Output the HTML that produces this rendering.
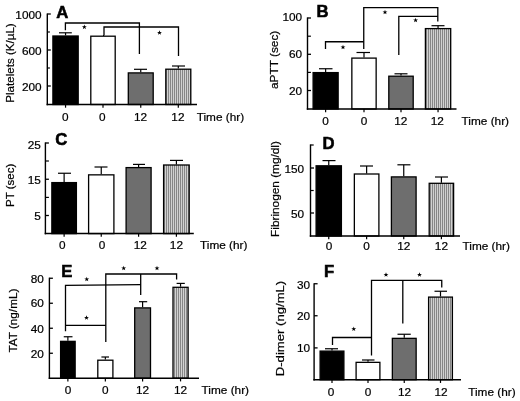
<!DOCTYPE html>
<html><head><meta charset="utf-8"><style>
html,body{margin:0;padding:0;background:#fff;}
svg{display:block;font-family:"Liberation Sans",sans-serif;will-change:transform;transform:translateZ(0);}
</style></head><body>
<svg width="520" height="401" viewBox="0 0 520 401">
<defs><pattern id="st" patternUnits="userSpaceOnUse" width="2" height="4"><rect width="2" height="4" fill="#dadada"/><rect x="0" width="1.1" height="4" fill="#868686"/></pattern></defs>
<rect width="520" height="401" fill="#fff"/>
<line x1="65.55" y1="32.8" x2="65.55" y2="35.4" stroke="#000" stroke-width="1.2"/>
<line x1="59" y1="32.8" x2="71.8" y2="32.8" stroke="#000" stroke-width="1.2"/>
<rect x="52.9" y="36.0" width="25.3" height="68.5" fill="#000" stroke="#000" stroke-width="1.3"/>
<line x1="103.0" y1="35.6" x2="103.0" y2="35.6" stroke="#000" stroke-width="1.2"/>
<line x1="103" y1="35.6" x2="104" y2="35.6" stroke="#000" stroke-width="1.2"/>
<rect x="90.8" y="36.2" width="24.399999999999995" height="68.30000000000001" fill="#fff" stroke="#000" stroke-width="1.3"/>
<line x1="140.75" y1="69.3" x2="140.75" y2="72.3" stroke="#000" stroke-width="1.2"/>
<line x1="134" y1="69.3" x2="147" y2="69.3" stroke="#000" stroke-width="1.2"/>
<rect x="128.3" y="72.89999999999999" width="24.90000000000001" height="31.6" fill="#6e6e6e" stroke="#000" stroke-width="1.3"/>
<line x1="178.3" y1="66" x2="178.3" y2="68.6" stroke="#000" stroke-width="1.2"/>
<line x1="172" y1="66" x2="185" y2="66" stroke="#000" stroke-width="1.2"/>
<rect x="165.79999999999998" y="69.19999999999999" width="25.000000000000018" height="35.300000000000004" fill="url(#st)" stroke="#000" stroke-width="1.3"/>
<line x1="47.3" y1="13.4" x2="47.3" y2="105.2" stroke="#000" stroke-width="1.4"/>
<line x1="46.599999999999994" y1="104.5" x2="197" y2="104.5" stroke="#000" stroke-width="1.5"/>
<line x1="47.3" y1="14" x2="50.8" y2="14" stroke="#000" stroke-width="1.3"/>
<text x="41.6" y="19.3" font-size="11.8" text-anchor="end" stroke="#000" stroke-width="0.22" fill="#000">1000</text>
<line x1="47.3" y1="32" x2="49.9" y2="32" stroke="#000" stroke-width="1.2"/>
<line x1="47.3" y1="50" x2="50.8" y2="50" stroke="#000" stroke-width="1.3"/>
<text x="41.6" y="54.7" font-size="11.8" text-anchor="end" stroke="#000" stroke-width="0.22" fill="#000">600</text>
<line x1="47.3" y1="68" x2="49.9" y2="68" stroke="#000" stroke-width="1.2"/>
<line x1="47.3" y1="86" x2="50.8" y2="86" stroke="#000" stroke-width="1.3"/>
<text x="41.6" y="90.69999999999999" font-size="11.8" text-anchor="end" stroke="#000" stroke-width="0.22" fill="#000">200</text>
<line x1="65.55" y1="104.5" x2="65.55" y2="107.7" stroke="#000" stroke-width="1.2"/>
<line x1="103.0" y1="104.5" x2="103.0" y2="107.7" stroke="#000" stroke-width="1.2"/>
<line x1="140.75" y1="104.5" x2="140.75" y2="107.7" stroke="#000" stroke-width="1.2"/>
<line x1="178.3" y1="104.5" x2="178.3" y2="107.7" stroke="#000" stroke-width="1.2"/>
<text x="65.4" y="120.6" font-size="11.8" text-anchor="middle" stroke="#000" stroke-width="0.22" fill="#000">0</text>
<text x="102.4" y="120.6" font-size="11.8" text-anchor="middle" stroke="#000" stroke-width="0.22" fill="#000">0</text>
<text x="140.5" y="120.6" font-size="11.8" text-anchor="middle" stroke="#000" stroke-width="0.22" fill="#000">12</text>
<text x="177.9" y="120.6" font-size="11.8" text-anchor="middle" stroke="#000" stroke-width="0.22" fill="#000">12</text>
<text x="196.7" y="120.6" font-size="11.8" text-anchor="start" stroke="#000" stroke-width="0.22" fill="#000">Time (hr)</text>
<text x="14.4" y="63" font-size="11.8" text-anchor="middle" stroke="#000" stroke-width="0.22" transform="rotate(-90 14.4 63)" textLength="79.4" lengthAdjust="spacingAndGlyphs" fill="#000">Platelets (K/µL)</text>
<text x="56.2" y="17.5" font-size="16.7" text-anchor="start" font-weight="bold" stroke="#000" stroke-width="0.55" fill="#000">A</text>
<polyline fill="none" stroke="#000" stroke-width="1.3" points="65.4,30.2 65.4,23 139.4,23 139.4,54"/>
<polyline fill="none" stroke="#000" stroke-width="1.3" points="104,35.4 104,27 178.5,27 178.5,56"/>
<polygon fill="#000" points="84.35,24.45 84.97,26.20 86.82,26.25 85.35,27.37 85.88,29.15 84.35,28.10 82.82,29.15 83.35,27.37 81.88,26.25 83.73,26.20"/>
<polygon fill="#000" points="159.50,30.15 160.12,31.90 161.97,31.95 160.50,33.07 161.03,34.85 159.50,33.80 157.97,34.85 158.50,33.07 157.03,31.95 158.88,31.90"/>
<line x1="325.625" y1="68.75" x2="325.625" y2="72" stroke="#000" stroke-width="1.2"/>
<line x1="319" y1="68.75" x2="332.5" y2="68.75" stroke="#000" stroke-width="1.2"/>
<rect x="313.1" y="72.6" width="25.05" height="36.4" fill="#000" stroke="#000" stroke-width="1.3"/>
<line x1="364.0" y1="52.5" x2="364.0" y2="57.5" stroke="#000" stroke-width="1.2"/>
<line x1="356.5" y1="52.5" x2="370" y2="52.5" stroke="#000" stroke-width="1.2"/>
<rect x="351.85" y="58.1" width="24.3" height="50.9" fill="#fff" stroke="#000" stroke-width="1.3"/>
<line x1="401.0" y1="73.8" x2="401.0" y2="75.6" stroke="#000" stroke-width="1.2"/>
<line x1="394.5" y1="73.8" x2="407.5" y2="73.8" stroke="#000" stroke-width="1.2"/>
<rect x="388.8" y="76.19999999999999" width="24.400000000000023" height="32.800000000000004" fill="#6e6e6e" stroke="#000" stroke-width="1.3"/>
<line x1="438.05" y1="25.7" x2="438.05" y2="28" stroke="#000" stroke-width="1.2"/>
<line x1="431.5" y1="25.7" x2="444.5" y2="25.7" stroke="#000" stroke-width="1.2"/>
<rect x="425.40000000000003" y="28.6" width="25.3" height="80.4" fill="url(#st)" stroke="#000" stroke-width="1.3"/>
<line x1="307.5" y1="17.4" x2="307.5" y2="109.7" stroke="#000" stroke-width="1.4"/>
<line x1="306.8" y1="109" x2="456.5" y2="109" stroke="#000" stroke-width="1.5"/>
<line x1="307.5" y1="18" x2="311.0" y2="18" stroke="#000" stroke-width="1.3"/>
<text x="302.1" y="21.200000000000003" font-size="11.8" text-anchor="end" stroke="#000" stroke-width="0.22" fill="#000">100</text>
<line x1="307.5" y1="36.2" x2="310.9" y2="36.2" stroke="#000" stroke-width="1.2"/>
<line x1="307.5" y1="54.3" x2="311.0" y2="54.3" stroke="#000" stroke-width="1.3"/>
<text x="302.1" y="58.4" font-size="11.8" text-anchor="end" stroke="#000" stroke-width="0.22" fill="#000">60</text>
<line x1="307.5" y1="72.4" x2="310.9" y2="72.4" stroke="#000" stroke-width="1.2"/>
<line x1="307.5" y1="90.5" x2="311.0" y2="90.5" stroke="#000" stroke-width="1.3"/>
<text x="302.1" y="94.6" font-size="11.8" text-anchor="end" stroke="#000" stroke-width="0.22" fill="#000">20</text>
<line x1="325.625" y1="109" x2="325.625" y2="112.2" stroke="#000" stroke-width="1.2"/>
<line x1="364.0" y1="109" x2="364.0" y2="112.2" stroke="#000" stroke-width="1.2"/>
<line x1="401.0" y1="109" x2="401.0" y2="112.2" stroke="#000" stroke-width="1.2"/>
<line x1="438.05" y1="109" x2="438.05" y2="112.2" stroke="#000" stroke-width="1.2"/>
<text x="325.5" y="124.5" font-size="11.8" text-anchor="middle" stroke="#000" stroke-width="0.22" fill="#000">0</text>
<text x="364" y="124.5" font-size="11.8" text-anchor="middle" stroke="#000" stroke-width="0.22" fill="#000">0</text>
<text x="400.7" y="124.5" font-size="11.8" text-anchor="middle" stroke="#000" stroke-width="0.22" fill="#000">12</text>
<text x="437.3" y="124.5" font-size="11.8" text-anchor="middle" stroke="#000" stroke-width="0.22" fill="#000">12</text>
<text x="461.6" y="124.5" font-size="11.8" text-anchor="start" stroke="#000" stroke-width="0.22" fill="#000">Time (hr)</text>
<text x="277.8" y="59.9" font-size="11.8" text-anchor="middle" stroke="#000" stroke-width="0.22" transform="rotate(-90 277.8 59.9)" textLength="58.3" lengthAdjust="spacingAndGlyphs" fill="#000">aPTT (sec)</text>
<text x="316.4" y="17.3" font-size="16.7" text-anchor="start" font-weight="bold" stroke="#000" stroke-width="0.55" fill="#000">B</text>
<polyline fill="none" stroke="#000" stroke-width="1.3" points="325.5,49 325.5,41.75 363.75,41.75"/>
<polyline fill="none" stroke="#000" stroke-width="1.3" points="363.75,49 363.75,7.7 437.8,7.7 437.8,21.6"/>
<polyline fill="none" stroke="#000" stroke-width="1.3" points="398.8,55 398.8,16.4 437.8,16.4"/>
<polygon fill="#000" points="343.00,44.65 343.62,46.40 345.47,46.45 344.00,47.57 344.53,49.35 343.00,48.30 341.47,49.35 342.00,47.57 340.53,46.45 342.38,46.40"/>
<polygon fill="#000" points="385.00,9.65 385.62,11.40 387.47,11.45 386.00,12.57 386.53,14.35 385.00,13.30 383.47,14.35 384.00,12.57 382.53,11.45 384.38,11.40"/>
<polygon fill="#000" points="415.60,17.65 416.22,19.40 418.07,19.45 416.60,20.57 417.13,22.35 415.60,21.30 414.07,22.35 414.60,20.57 413.13,19.45 414.98,19.40"/>
<line x1="64.125" y1="173.25" x2="64.125" y2="182" stroke="#000" stroke-width="1.2"/>
<line x1="58" y1="173.25" x2="71" y2="173.25" stroke="#000" stroke-width="1.2"/>
<rect x="51.85" y="182.6" width="24.55" height="50.99999999999999" fill="#000" stroke="#000" stroke-width="1.3"/>
<line x1="101.25" y1="167" x2="101.25" y2="174.25" stroke="#000" stroke-width="1.2"/>
<line x1="94.5" y1="167" x2="107.5" y2="167" stroke="#000" stroke-width="1.2"/>
<rect x="88.6" y="174.85" width="25.3" height="58.74999999999999" fill="#fff" stroke="#000" stroke-width="1.3"/>
<line x1="138.6" y1="164.4" x2="138.6" y2="167" stroke="#000" stroke-width="1.2"/>
<line x1="133" y1="164.4" x2="145" y2="164.4" stroke="#000" stroke-width="1.2"/>
<rect x="126.1" y="167.6" width="24.99999999999999" height="66.0" fill="#6e6e6e" stroke="#000" stroke-width="1.3"/>
<line x1="176.4" y1="160.4" x2="176.4" y2="164.4" stroke="#000" stroke-width="1.2"/>
<line x1="170" y1="160.4" x2="183" y2="160.4" stroke="#000" stroke-width="1.2"/>
<rect x="163.6" y="165.0" width="25.600000000000012" height="68.6" fill="url(#st)" stroke="#000" stroke-width="1.3"/>
<line x1="45.4" y1="142.4" x2="45.4" y2="234.29999999999998" stroke="#000" stroke-width="1.4"/>
<line x1="44.699999999999996" y1="233.6" x2="193.8" y2="233.6" stroke="#000" stroke-width="1.5"/>
<line x1="45.4" y1="143" x2="48.9" y2="143" stroke="#000" stroke-width="1.3"/>
<text x="40.9" y="149.1" font-size="11.8" text-anchor="end" stroke="#000" stroke-width="0.22" fill="#000">25</text>
<line x1="45.4" y1="161" x2="48.9" y2="161" stroke="#000" stroke-width="1.2"/>
<line x1="45.4" y1="179.25" x2="48.9" y2="179.25" stroke="#000" stroke-width="1.3"/>
<text x="40.9" y="183.65" font-size="11.8" text-anchor="end" stroke="#000" stroke-width="0.22" fill="#000">15</text>
<line x1="45.4" y1="197.4" x2="48.9" y2="197.4" stroke="#000" stroke-width="1.2"/>
<line x1="45.4" y1="215.5" x2="48.9" y2="215.5" stroke="#000" stroke-width="1.3"/>
<text x="40.9" y="220.4" font-size="11.8" text-anchor="end" stroke="#000" stroke-width="0.22" fill="#000">5</text>
<line x1="64.125" y1="233.6" x2="64.125" y2="236.79999999999998" stroke="#000" stroke-width="1.2"/>
<line x1="101.25" y1="233.6" x2="101.25" y2="236.79999999999998" stroke="#000" stroke-width="1.2"/>
<line x1="138.6" y1="233.6" x2="138.6" y2="236.79999999999998" stroke="#000" stroke-width="1.2"/>
<line x1="176.4" y1="233.6" x2="176.4" y2="236.79999999999998" stroke="#000" stroke-width="1.2"/>
<text x="62.2" y="249" font-size="11.8" text-anchor="middle" stroke="#000" stroke-width="0.22" fill="#000">0</text>
<text x="102" y="249" font-size="11.8" text-anchor="middle" stroke="#000" stroke-width="0.22" fill="#000">0</text>
<text x="140.2" y="249" font-size="11.8" text-anchor="middle" stroke="#000" stroke-width="0.22" fill="#000">12</text>
<text x="176.4" y="249" font-size="11.8" text-anchor="middle" stroke="#000" stroke-width="0.22" fill="#000">12</text>
<text x="200" y="249" font-size="11.8" text-anchor="start" stroke="#000" stroke-width="0.22" fill="#000">Time (hr)</text>
<text x="14.4" y="185.3" font-size="11.8" text-anchor="middle" stroke="#000" stroke-width="0.22" transform="rotate(-90 14.4 185.3)" textLength="43.4" lengthAdjust="spacingAndGlyphs" fill="#000">PT (sec)</text>
<text x="55.2" y="145.2" font-size="16.7" text-anchor="start" font-weight="bold" stroke="#000" stroke-width="0.55" fill="#000">C</text>
<line x1="328.75" y1="160.6" x2="328.75" y2="165.2" stroke="#000" stroke-width="1.2"/>
<line x1="322.5" y1="160.6" x2="335.5" y2="160.6" stroke="#000" stroke-width="1.2"/>
<rect x="316.1" y="165.79999999999998" width="25.3" height="70.20000000000002" fill="#000" stroke="#000" stroke-width="1.3"/>
<line x1="366.625" y1="166" x2="366.625" y2="173.4" stroke="#000" stroke-width="1.2"/>
<line x1="360" y1="166" x2="373" y2="166" stroke="#000" stroke-width="1.2"/>
<rect x="354.35" y="174.0" width="24.55" height="61.99999999999999" fill="#fff" stroke="#000" stroke-width="1.3"/>
<line x1="403.75" y1="164.8" x2="403.75" y2="176.3" stroke="#000" stroke-width="1.2"/>
<line x1="397.4" y1="164.8" x2="410.4" y2="164.8" stroke="#000" stroke-width="1.2"/>
<rect x="391.40000000000003" y="176.9" width="24.699999999999978" height="59.09999999999999" fill="#6e6e6e" stroke="#000" stroke-width="1.3"/>
<line x1="441.4" y1="177" x2="441.4" y2="182.7" stroke="#000" stroke-width="1.2"/>
<line x1="435" y1="177" x2="448" y2="177" stroke="#000" stroke-width="1.2"/>
<rect x="429.20000000000005" y="183.29999999999998" width="24.399999999999967" height="52.70000000000001" fill="url(#st)" stroke="#000" stroke-width="1.3"/>
<line x1="310.5" y1="144.4" x2="310.5" y2="236.7" stroke="#000" stroke-width="1.4"/>
<line x1="309.8" y1="236" x2="460" y2="236" stroke="#000" stroke-width="1.5"/>
<line x1="310.5" y1="145" x2="313.7" y2="145" stroke="#000" stroke-width="1.2"/>
<line x1="310.5" y1="168" x2="314.0" y2="168" stroke="#000" stroke-width="1.3"/>
<text x="304.2" y="172.79999999999998" font-size="11.8" text-anchor="end" stroke="#000" stroke-width="0.22" fill="#000">150</text>
<line x1="310.5" y1="190.5" x2="313.7" y2="190.5" stroke="#000" stroke-width="1.2"/>
<line x1="310.5" y1="213" x2="314.0" y2="213" stroke="#000" stroke-width="1.3"/>
<text x="304.2" y="217.6" font-size="11.8" text-anchor="end" stroke="#000" stroke-width="0.22" fill="#000">50</text>
<line x1="328.75" y1="236" x2="328.75" y2="239.2" stroke="#000" stroke-width="1.2"/>
<line x1="366.625" y1="236" x2="366.625" y2="239.2" stroke="#000" stroke-width="1.2"/>
<line x1="403.75" y1="236" x2="403.75" y2="239.2" stroke="#000" stroke-width="1.2"/>
<line x1="441.4" y1="236" x2="441.4" y2="239.2" stroke="#000" stroke-width="1.2"/>
<text x="329" y="250.4" font-size="11.8" text-anchor="middle" stroke="#000" stroke-width="0.22" fill="#000">0</text>
<text x="366.6" y="250.4" font-size="11.8" text-anchor="middle" stroke="#000" stroke-width="0.22" fill="#000">0</text>
<text x="403.7" y="250.4" font-size="11.8" text-anchor="middle" stroke="#000" stroke-width="0.22" fill="#000">12</text>
<text x="441.4" y="250.4" font-size="11.8" text-anchor="middle" stroke="#000" stroke-width="0.22" fill="#000">12</text>
<text x="462.5" y="250.4" font-size="11.8" text-anchor="start" stroke="#000" stroke-width="0.22" fill="#000">Time (hr)</text>
<text x="278.8" y="189" font-size="11.8" text-anchor="middle" stroke="#000" stroke-width="0.22" transform="rotate(-90 278.8 189)" textLength="95.8" lengthAdjust="spacingAndGlyphs" fill="#000">Fibrinogen (mg/dl)</text>
<text x="322.6" y="148.8" font-size="16.7" text-anchor="start" font-weight="bold" stroke="#000" stroke-width="0.55" fill="#000">D</text>
<line x1="67.875" y1="336.75" x2="67.875" y2="340.75" stroke="#000" stroke-width="1.2"/>
<line x1="63.75" y1="336.75" x2="72.5" y2="336.75" stroke="#000" stroke-width="1.2"/>
<rect x="60.6" y="341.35" width="14.55" height="36.84999999999999" fill="#000" stroke="#000" stroke-width="1.3"/>
<line x1="105.35" y1="357" x2="105.35" y2="359.6" stroke="#000" stroke-width="1.2"/>
<line x1="101.4" y1="357" x2="109" y2="357" stroke="#000" stroke-width="1.2"/>
<rect x="97.8" y="360.20000000000005" width="15.099999999999998" height="17.999999999999964" fill="#fff" stroke="#000" stroke-width="1.3"/>
<line x1="142.6" y1="301.7" x2="142.6" y2="307.3" stroke="#000" stroke-width="1.2"/>
<line x1="139" y1="301.7" x2="147.2" y2="301.7" stroke="#000" stroke-width="1.2"/>
<rect x="134.7" y="307.90000000000003" width="15.8" height="70.29999999999998" fill="#6e6e6e" stroke="#000" stroke-width="1.3"/>
<line x1="180.55" y1="283.4" x2="180.55" y2="286.7" stroke="#000" stroke-width="1.2"/>
<line x1="176.6" y1="283.4" x2="184.8" y2="283.4" stroke="#000" stroke-width="1.2"/>
<rect x="173.0" y="287.3" width="15.099999999999984" height="90.9" fill="url(#st)" stroke="#000" stroke-width="1.3"/>
<line x1="49.4" y1="277.65" x2="49.4" y2="378.9" stroke="#000" stroke-width="1.4"/>
<line x1="48.699999999999996" y1="378.2" x2="199" y2="378.2" stroke="#000" stroke-width="1.5"/>
<line x1="49.4" y1="278.25" x2="52.9" y2="278.25" stroke="#000" stroke-width="1.3"/>
<text x="43.9" y="283.15000000000003" font-size="11.8" text-anchor="end" stroke="#000" stroke-width="0.22" fill="#000">80</text>
<line x1="49.4" y1="303.25" x2="52.9" y2="303.25" stroke="#000" stroke-width="1.3"/>
<text x="43.9" y="307.15000000000003" font-size="11.8" text-anchor="end" stroke="#000" stroke-width="0.22" fill="#000">60</text>
<line x1="49.4" y1="328.25" x2="52.9" y2="328.25" stroke="#000" stroke-width="1.3"/>
<text x="43.9" y="332.55" font-size="11.8" text-anchor="end" stroke="#000" stroke-width="0.22" fill="#000">40</text>
<line x1="49.4" y1="353.25" x2="52.9" y2="353.25" stroke="#000" stroke-width="1.3"/>
<text x="43.9" y="357.55" font-size="11.8" text-anchor="end" stroke="#000" stroke-width="0.22" fill="#000">20</text>
<line x1="67.875" y1="378.2" x2="67.875" y2="381.4" stroke="#000" stroke-width="1.2"/>
<line x1="105.35" y1="378.2" x2="105.35" y2="381.4" stroke="#000" stroke-width="1.2"/>
<line x1="142.6" y1="378.2" x2="142.6" y2="381.4" stroke="#000" stroke-width="1.2"/>
<line x1="180.55" y1="378.2" x2="180.55" y2="381.4" stroke="#000" stroke-width="1.2"/>
<text x="68" y="394.3" font-size="11.8" text-anchor="middle" stroke="#000" stroke-width="0.22" fill="#000">0</text>
<text x="105.4" y="394.3" font-size="11.8" text-anchor="middle" stroke="#000" stroke-width="0.22" fill="#000">0</text>
<text x="142.6" y="394.3" font-size="11.8" text-anchor="middle" stroke="#000" stroke-width="0.22" fill="#000">12</text>
<text x="180.5" y="394.3" font-size="11.8" text-anchor="middle" stroke="#000" stroke-width="0.22" fill="#000">12</text>
<text x="201.6" y="394.3" font-size="11.8" text-anchor="start" stroke="#000" stroke-width="0.22" fill="#000">Time (hr)</text>
<text x="17.2" y="320.6" font-size="11.8" text-anchor="middle" stroke="#000" stroke-width="0.22" transform="rotate(-90 17.2 320.6)" textLength="63.8" lengthAdjust="spacingAndGlyphs" fill="#000">TAT (ng/mL)</text>
<text x="61.2" y="276.8" font-size="16.7" text-anchor="start" font-weight="bold" stroke="#000" stroke-width="0.55" fill="#000">E</text>
<polyline fill="none" stroke="#000" stroke-width="1.3" points="65.5,331.25 65.5,285.4 140.7,284.6"/>
<polyline fill="none" stroke="#000" stroke-width="1.3" points="65.5,325.4 105.8,325.4"/>
<polyline fill="none" stroke="#000" stroke-width="1.3" points="105.8,342 105.8,274 176.6,274 176.6,279.5"/>
<polyline fill="none" stroke="#000" stroke-width="1.3" points="140.7,274 140.7,295"/>
<polygon fill="#000" points="86.75,276.65 87.37,278.40 89.22,278.45 87.75,279.57 88.28,281.35 86.75,280.30 85.22,281.35 85.75,279.57 84.28,278.45 86.13,278.40"/>
<polygon fill="#000" points="86.50,315.15 87.12,316.90 88.97,316.95 87.50,318.07 88.03,319.85 86.50,318.80 84.97,319.85 85.50,318.07 84.03,316.95 85.88,316.90"/>
<polygon fill="#000" points="123.70,265.65 124.32,267.40 126.17,267.45 124.70,268.57 125.23,270.35 123.70,269.30 122.17,270.35 122.70,268.57 121.23,267.45 123.08,267.40"/>
<polygon fill="#000" points="157.00,265.65 157.62,267.40 159.47,267.45 158.00,268.57 158.53,270.35 157.00,269.30 155.47,270.35 156.00,268.57 154.53,267.45 156.38,267.40"/>
<line x1="332.0" y1="348.75" x2="332.0" y2="350.5" stroke="#000" stroke-width="1.2"/>
<line x1="325" y1="348.75" x2="338" y2="348.75" stroke="#000" stroke-width="1.2"/>
<rect x="320.1" y="351.1" width="23.8" height="28.65" fill="#000" stroke="#000" stroke-width="1.3"/>
<line x1="368.0" y1="360" x2="368.0" y2="361.75" stroke="#000" stroke-width="1.2"/>
<line x1="362" y1="360" x2="374.5" y2="360" stroke="#000" stroke-width="1.2"/>
<rect x="356.1" y="362.35" width="23.8" height="17.4" fill="#fff" stroke="#000" stroke-width="1.3"/>
<line x1="404.25" y1="334.25" x2="404.25" y2="337.75" stroke="#000" stroke-width="1.2"/>
<line x1="397.5" y1="334.25" x2="410.75" y2="334.25" stroke="#000" stroke-width="1.2"/>
<rect x="392.35" y="338.35" width="23.8" height="41.4" fill="#6e6e6e" stroke="#000" stroke-width="1.3"/>
<line x1="440.5" y1="291.25" x2="440.5" y2="296.5" stroke="#000" stroke-width="1.2"/>
<line x1="434.5" y1="291.25" x2="447" y2="291.25" stroke="#000" stroke-width="1.2"/>
<rect x="428.6" y="297.1" width="23.8" height="82.65" fill="url(#st)" stroke="#000" stroke-width="1.3"/>
<line x1="314.1" y1="283.15" x2="314.1" y2="380.45" stroke="#000" stroke-width="1.4"/>
<line x1="313.40000000000003" y1="379.75" x2="461" y2="379.75" stroke="#000" stroke-width="1.5"/>
<line x1="314.1" y1="283.75" x2="317.6" y2="283.75" stroke="#000" stroke-width="1.3"/>
<text x="310" y="288.55" font-size="11.8" text-anchor="end" stroke="#000" stroke-width="0.22" fill="#000">30</text>
<line x1="314.1" y1="315.75" x2="317.6" y2="315.75" stroke="#000" stroke-width="1.3"/>
<text x="310" y="320.15000000000003" font-size="11.8" text-anchor="end" stroke="#000" stroke-width="0.22" fill="#000">20</text>
<line x1="314.1" y1="347.9" x2="317.6" y2="347.9" stroke="#000" stroke-width="1.3"/>
<text x="310" y="352.3" font-size="11.8" text-anchor="end" stroke="#000" stroke-width="0.22" fill="#000">10</text>
<line x1="332.0" y1="379.75" x2="332.0" y2="382.95" stroke="#000" stroke-width="1.2"/>
<line x1="368.0" y1="379.75" x2="368.0" y2="382.95" stroke="#000" stroke-width="1.2"/>
<line x1="404.25" y1="379.75" x2="404.25" y2="382.95" stroke="#000" stroke-width="1.2"/>
<line x1="440.5" y1="379.75" x2="440.5" y2="382.95" stroke="#000" stroke-width="1.2"/>
<text x="331" y="396" font-size="11.8" text-anchor="middle" stroke="#000" stroke-width="0.22" fill="#000">0</text>
<text x="368" y="396" font-size="11.8" text-anchor="middle" stroke="#000" stroke-width="0.22" fill="#000">0</text>
<text x="404.5" y="396" font-size="11.8" text-anchor="middle" stroke="#000" stroke-width="0.22" fill="#000">12</text>
<text x="441" y="396" font-size="11.8" text-anchor="middle" stroke="#000" stroke-width="0.22" fill="#000">12</text>
<text x="468.2" y="396" font-size="11.8" text-anchor="start" stroke="#000" stroke-width="0.22" fill="#000">Time (hr)</text>
<text x="284.2" y="328.5" font-size="11.8" text-anchor="middle" stroke="#000" stroke-width="0.22" transform="rotate(-90 284.2 328.5)" textLength="95.5" lengthAdjust="spacingAndGlyphs" fill="#000">D-dimer (ng/mL)</text>
<text x="324" y="276.5" font-size="16.7" text-anchor="start" font-weight="bold" stroke="#000" stroke-width="0.55" fill="#000">F</text>
<polyline fill="none" stroke="#000" stroke-width="1.3" points="332.5,345 332.5,337.5 371.5,337.5"/>
<polyline fill="none" stroke="#000" stroke-width="1.3" points="371.5,355.5 371.5,280.3 441.75,280.3 441.75,287.5"/>
<polyline fill="none" stroke="#000" stroke-width="1.3" points="402.8,280.3 402.8,323.5"/>
<polygon fill="#000" points="353.75,326.40 354.37,328.15 356.22,328.20 354.75,329.32 355.28,331.10 353.75,330.05 352.22,331.10 352.75,329.32 351.28,328.20 353.13,328.15"/>
<polygon fill="#000" points="386.00,272.15 386.62,273.90 388.47,273.95 387.00,275.07 387.53,276.85 386.00,275.80 384.47,276.85 385.00,275.07 383.53,273.95 385.38,273.90"/>
<polygon fill="#000" points="419.50,272.15 420.12,273.90 421.97,273.95 420.50,275.07 421.03,276.85 419.50,275.80 417.97,276.85 418.50,275.07 417.03,273.95 418.88,273.90"/>
</svg></body></html>
